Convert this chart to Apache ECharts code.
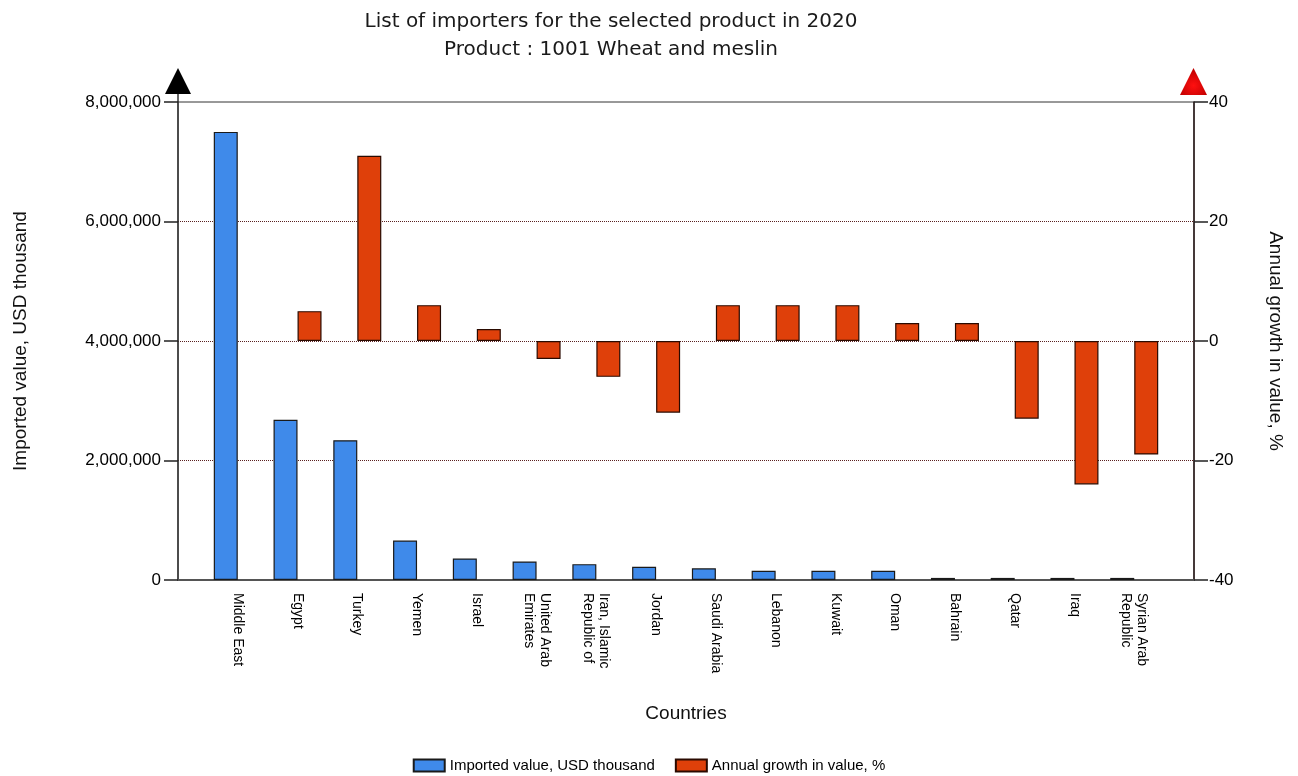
<!DOCTYPE html>
<html>
<head>
<meta charset="utf-8">
<script src="https://cdn.jsdelivr.net/npm/echarts@6/dist/echarts.min.js"></script>
<style>
html,body{margin:0;padding:0;background:#fff;}
#chart{width:1298px;height:776px;}
</style>
</head>
<body>
<div id="chart"></div>
<script>
const categories = ["Middle East","Egypt","Turkey","Yemen","Israel","United Arab\nEmirates","Iran, Islamic\nRepublic of","Jordan","Saudi Arabia","Lebanon","Kuwait","Oman","Bahrain","Qatar","Iraq","Syrian Arab\nRepublic"];
const importedValue = [7500000, 2680000, 2340000, 660000, 360000, 310000, 265000, 220000, 195000, 155000, 155000, 155000, 35000, 35000, 35000, 35000];
const annualGrowth = [null, 5, 31, 6, 2, -3, -6, -12, 6, 6, 6, 3, 3, -13, -24, -19];
const leftTicks = [0, 2000000, 4000000, 6000000, 8000000];
const rightTicks = [-40, -20, 0, 20, 40];

const xData = [''].concat(categories, ['']);
const blueData = [null].concat(importedValue, [null]);
const redData = [null].concat(annualGrowth, [null]);

const chart = echarts.init(document.getElementById('chart'));
const labelFont = 'Liberation Sans, Arial, sans-serif';
chart.setOption({
  animation: false,
  backgroundColor: '#fff',
  title: {
    text: 'List of importers for the selected product in 2020\nProduct : 1001 Wheat and meslin',
    left: 606, top: 3, textAlign: 'center',
    textStyle: {fontFamily: 'DejaVu Sans', fontSize: 20, fontWeight: 'normal', color: '#1a1a1a', lineHeight: 28}
  },
  legend: {
    bottom: -2, left: 'center',
    icon: 'rect', itemWidth: 31, itemHeight: 12, itemGap: 20,
    textStyle: {fontFamily: labelFont, fontSize: 15, color: '#000'},
    data: ['Imported value, USD thousand', 'Annual growth in value, %']
  },
  grid: {left: 178, right: 104, top: 102, bottom: 196, show: true, borderColor: '#333', borderWidth: 1},
  xAxis: {
    type: 'category', data: xData, boundaryGap: false,
    name: 'Countries', nameLocation: 'middle', nameGap: 124,
    nameTextStyle: {fontFamily: labelFont, fontSize: 19, color: '#111'},
    axisLine: {lineStyle: {color: '#555', width: 2}},
    axisTick: {show: false},
    axisLabel: {rotate: -90, interval: 0, margin: 13, fontFamily: labelFont, fontSize: 14, color: '#000', lineHeight: 16},
    splitLine: {show: false}
  },
  yAxis: [{
    type: 'value', min: leftTicks[0], max: leftTicks[leftTicks.length-1], interval: leftTicks[1]-leftTicks[0],
    name: 'Imported value, USD thousand', nameLocation: 'middle', nameGap: 148, nameRotate: 90,
    nameTextStyle: {fontFamily: labelFont, fontSize: 19, color: '#111'},
    axisLine: {show: true, lineStyle: {color: '#333', width: 1.5}},
    axisTick: {show: true, length: 14, lineStyle: {color: '#222', width: 1.5}},
    axisLabel: {fontFamily: labelFont, fontSize: 17, color: '#000', margin: 17,
      formatter: v => v.toLocaleString('en-US')},
    splitLine: {show: true, showMinLine: false, showMaxLine: false, lineStyle: {type: 'dotted', color: '#5a2020', width: 1}}
  }, {
    type: 'value', min: rightTicks[0], max: rightTicks[rightTicks.length-1], interval: rightTicks[1]-rightTicks[0],
    name: 'Annual growth in value, %', nameLocation: 'middle', nameGap: 72, nameRotate: -90,
    nameTextStyle: {fontFamily: labelFont, fontSize: 19, color: '#111'},
    axisLine: {show: true, lineStyle: {color: '#2a1a1a', width: 1.5}},
    axisTick: {show: true, length: 14, lineStyle: {color: '#222', width: 1.5}},
    axisLabel: {fontFamily: labelFont, fontSize: 17, color: '#000', margin: 15},
    splitLine: {show: false}
  }],
  series: [{
    name: 'Imported value, USD thousand', type: 'bar', yAxisIndex: 0,
    data: blueData, barWidth: 24, barGap: '0%',
    itemStyle: {color: '#3f8aea', borderColor: '#1a1a1a', borderWidth: 1.2}
  }, {
    name: 'Annual growth in value, %', type: 'bar', yAxisIndex: 1,
    data: redData, barWidth: 24, barGap: '0%',
    itemStyle: {color: '#df400a', borderColor: '#2a0a00', borderWidth: 1.2}
  }],
  graphic: [
    {type: 'line', shape: {x1: 178, y1: 93, x2: 178, y2: 102}, style: {stroke: '#333', lineWidth: 1.5}},
    {type: 'polygon', shape: {points: [[165, 94], [191, 94], [178, 68]]}, style: {fill: '#000'}},
    {type: 'polygon', shape: {points: [[1180, 95], [1207, 95], [1193.5, 68]]},
      style: {fill: new echarts.graphic.RadialGradient(0.5, 0.65, 0.6, [{offset: 0, color: '#ff1010'}, {offset: 1, color: '#c00000'}])}}
  ]
});
</script>
</body>
</html>
